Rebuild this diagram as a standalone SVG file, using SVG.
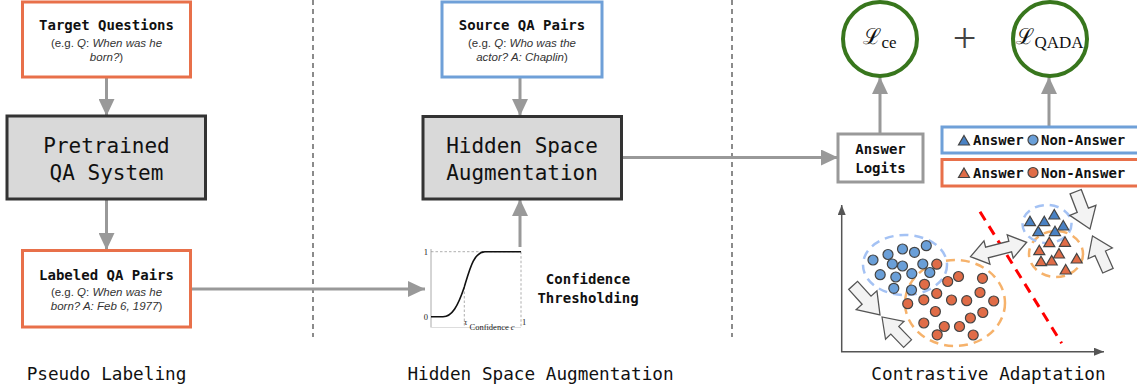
<svg xmlns="http://www.w3.org/2000/svg" xmlns:xlink="http://www.w3.org/1999/xlink" width="1137" height="392" viewBox="0 0 1137 392">
<style>
.mono{font-family:"DejaVu Sans Mono","Liberation Mono",monospace;}
.title{font-family:"DejaVu Sans Mono","Liberation Mono",monospace;font-size:14px;font-weight:bold;fill:#111;text-anchor:middle;}
.sub{font-family:"Liberation Sans",Arial,sans-serif;font-size:11.5px;fill:#333;text-anchor:middle;}
.it{font-style:italic;}
.big{font-family:"DejaVu Sans Mono","Liberation Mono",monospace;font-size:21px;fill:#111;text-anchor:middle;}
.cap{font-family:"DejaVu Sans Mono","Liberation Mono",monospace;font-size:17.7px;fill:#111;text-anchor:middle;}
.obox{fill:#fff;stroke:#e8704a;stroke-width:3;}
.bbox{fill:#fff;stroke:#6fa0d8;stroke-width:3;}
.gbox{fill:#d9d9d9;stroke:#333;stroke-width:3;}
.conn{stroke:#999;stroke-width:3;fill:none;marker-end:url(#ah);}
.sep{stroke:#666;stroke-width:1.5;stroke-dasharray:5,4;fill:none;}
.circ{fill:#fff;stroke:#38761d;stroke-width:4;}
.bd{fill:#6a9fd8;stroke:#444;stroke-width:1.2;}
.od{fill:#e06c47;stroke:#444;stroke-width:1.2;}
.bt{fill:#4a82c4;stroke:#444;stroke-width:1.2;}
.ot{fill:#e06c47;stroke:#444;stroke-width:1.2;}
.be{fill:none;stroke:#a4c2f4;stroke-width:2.5;stroke-dasharray:9,6;}
.oe{fill:none;stroke:#f6b26b;stroke-width:2.5;stroke-dasharray:9,6;}
.blk{fill:#f3f3f3;stroke:#555;stroke-width:1.3;stroke-linejoin:miter;}
.ptxt{font-family:"Liberation Serif","Times New Roman",serif;font-size:8.5px;fill:#222;}
</style>
<defs>
<marker id="ah" viewBox="0 0 17 16" refX="17" refY="8" markerWidth="17" markerHeight="16" markerUnits="userSpaceOnUse" orient="auto">
<path d="M0,0 L17,8 L0,16 Z" fill="#999"/>
</marker>
<marker id="axh" viewBox="0 0 10 8" refX="10" refY="4" markerWidth="10" markerHeight="8" markerUnits="userSpaceOnUse" orient="auto">
<path d="M0,0 L10,4 L0,8 Z" fill="#555"/>
</marker>
<path id="tri" d="M0,-5.5 L5.5,4 L-5.5,4 Z"/>
<path id="blkarrow" d="M-40,-6 L-20,-6 L-20,-14 L0,0 L-20,14 L-20,6 L-40,6 Z"/>
</defs>

<!-- separators -->
<line class="sep" x1="313" y1="0" x2="313" y2="337"/>
<line class="sep" x1="732" y1="0" x2="732" y2="337"/>

<g id="connectors">
<line class="conn" x1="106.5" y1="77" x2="106.5" y2="116"/>
<line class="conn" x1="106.5" y1="199" x2="106.5" y2="250"/>
<line class="conn" x1="190" y1="289" x2="425" y2="289"/>
<line class="conn" x1="520" y1="77" x2="520" y2="116"/>
<line class="conn" x1="520" y1="247" x2="520" y2="199"/>
<line class="conn" x1="622" y1="157.5" x2="838" y2="157.5"/>
<line class="conn" x1="880" y1="134" x2="880" y2="77"/>
<line class="conn" x1="1049" y1="127" x2="1049" y2="77"/>
</g>

<g id="target-questions">
<rect class="obox" x="22.5" y="2" width="168" height="75"/>
<text class="title" x="106.5" y="30">Target Questions</text>
<text class="sub" x="106.5" y="47">(e.g. <tspan class="it">Q</tspan>: <tspan class="it">When was he</tspan></text>
<text class="sub" x="106.5" y="60.5"><tspan class="it">born?</tspan>)</text>
</g>

<g id="pretrained-qa">
<rect class="gbox" x="7" y="116" width="198.5" height="83"/>
<text class="big" x="106.5" y="152.5">Pretrained</text>
<text class="big" x="106.5" y="180">QA System</text>
</g>

<g id="labeled-qa">
<rect class="obox" x="22.5" y="250.5" width="168" height="76.5"/>
<text class="title" x="106.5" y="280">Labeled QA Pairs</text>
<text class="sub" x="106.5" y="296">(e.g. <tspan class="it">Q</tspan>: <tspan class="it">When was he</tspan></text>
<text class="sub" x="106.5" y="310"><tspan class="it">born? A: Feb 6, 1977</tspan>)</text>
</g>

<text class="cap" x="106.5" y="379.5">Pseudo Labeling</text>

<g id="source-qa">
<rect class="bbox" x="442" y="2" width="160" height="75"/>
<text class="title" x="522" y="30">Source QA Pairs</text>
<text class="sub" x="522" y="47">(e.g. <tspan class="it">Q</tspan>: <tspan class="it">Who was the</tspan></text>
<text class="sub" x="522" y="60.5"><tspan class="it">actor? A: Chaplin</tspan>)</text>
</g>

<g id="hidden-space-aug">
<rect class="gbox" x="423" y="116.5" width="198.5" height="82.5"/>
<text class="big" x="522" y="152.5">Hidden Space</text>
<text class="big" x="522" y="180">Augmentation</text>
</g>

<g id="confidence-plot">
<line x1="431" y1="249" x2="431" y2="327.5" stroke="#aaa" stroke-width="1"/>
<line x1="431" y1="327.5" x2="521" y2="327.5" stroke="#ddd" stroke-width="1"/>
<line x1="431" y1="251.7" x2="521" y2="251.7" stroke="#999" stroke-width="0.8" stroke-dasharray="2.5,2"/>
<line x1="521" y1="251.7" x2="521" y2="327.5" stroke="#999" stroke-width="0.8" stroke-dasharray="2.5,2"/>
<line x1="464.3" y1="287" x2="464.3" y2="327.5" stroke="#999" stroke-width="0.8" stroke-dasharray="2.5,2"/>
<path d="M431,316.7 L443,316.7 C452,316.7 458,306 464.3,287 C470,268 474,252 485,251.7 L521,251.7" fill="none" stroke="#111" stroke-width="1.6"/>
<text class="ptxt" x="428" y="254.5" text-anchor="end">1</text>
<text class="ptxt" x="428" y="319.5" text-anchor="end">0</text>
<text class="ptxt" x="464" y="325">τ</text>
<text class="ptxt" x="469.5" y="330">Confidence <tspan font-style="italic">c</tspan></text>
<text class="ptxt" x="522" y="325">1</text>
</g>

<g id="confidence-thresholding">
<text class="title" x="588" y="284">Confidence</text>
<text class="title" x="588" y="303">Thresholding</text>
</g>

<text class="cap" x="540.5" y="379.5">Hidden Space Augmentation</text>

<g id="loss-ce">
<circle class="circ" cx="880" cy="39" r="37"/>
<text x="880" y="44" text-anchor="middle" fill="#111"><tspan font-family="DejaVu Serif,serif" font-size="22">ℒ</tspan><tspan font-family="Liberation Serif,serif" font-size="17" dy="4">ce</tspan></text>
</g>

<text x="964.5" y="52" text-anchor="middle" font-family="Liberation Serif,serif" font-size="42" fill="#444">+</text>

<g id="loss-qada">
<circle class="circ" cx="1050" cy="39" r="37"/>
<text x="1050" y="44" text-anchor="middle" fill="#111"><tspan font-family="DejaVu Serif,serif" font-size="22">ℒ</tspan><tspan font-family="Liberation Serif,serif" font-size="17" dy="4">QADA</tspan></text>
</g>

<g id="answer-logits">
<rect x="838" y="134" width="85" height="48" fill="#fff" stroke="#999" stroke-width="3"/>
<text class="title" x="880.5" y="154">Answer</text>
<text class="title" x="880.5" y="173">Logits</text>
</g>

<g id="legend-source">
<rect class="bbox" x="942" y="127" width="200" height="26"/>
<use xlink:href="#tri" x="964" y="141" class="bt"/>
<text class="title" x="973" y="145" style="text-anchor:start">Answer</text>
<circle cx="1033" cy="140" r="5" class="bd"/>
<text class="title" x="1041" y="145" style="text-anchor:start">Non-Answer</text>
</g>

<g id="legend-target">
<rect class="obox" x="942" y="159.5" width="200" height="26.5"/>
<use xlink:href="#tri" x="964" y="173.5" class="ot"/>
<text class="title" x="973" y="177.5" style="text-anchor:start">Answer</text>
<circle cx="1033" cy="172.5" r="5" class="od"/>
<text class="title" x="1041" y="177.5" style="text-anchor:start">Non-Answer</text>
</g>

<g id="scatter-plot">
<line x1="841.7" y1="352" x2="841.7" y2="205" stroke="#555" stroke-width="1.5" marker-end="url(#axh)"/>
<line x1="841" y1="351.7" x2="1104" y2="351.7" stroke="#555" stroke-width="1.5" marker-end="url(#axh)"/>

<ellipse class="oe" cx="955" cy="303" rx="50" ry="43"/>
<ellipse class="be" cx="905" cy="265" rx="42" ry="30"/>

<circle class="bd" cx="873" cy="260" r="5"/>
<circle class="bd" cx="888" cy="254.5" r="5"/>
<circle class="bd" cx="902.5" cy="249" r="5"/>
<circle class="bd" cx="914.5" cy="252.3" r="5"/>
<circle class="bd" cx="926.3" cy="245.7" r="5"/>
<circle class="bd" cx="892.3" cy="264" r="5"/>
<circle class="bd" cx="902.5" cy="266" r="5"/>
<circle class="bd" cx="922.8" cy="264" r="5"/>
<circle class="bd" cx="880.2" cy="274.7" r="5"/>
<circle class="bd" cx="895.8" cy="277" r="5"/>
<circle class="bd" cx="911.8" cy="273.6" r="5"/>
<circle class="bd" cx="929.8" cy="272.5" r="5"/>
<circle class="bd" cx="893.8" cy="288.3" r="5"/>
<circle class="bd" cx="911.5" cy="290" r="5"/>

<circle class="od" cx="936.8" cy="264.2" r="5"/>
<circle class="od" cx="947.7" cy="281.5" r="5"/>
<circle class="od" cx="958.5" cy="276.5" r="5"/>
<circle class="od" cx="982.5" cy="278.3" r="5"/>
<circle class="od" cx="924.5" cy="284.3" r="5"/>
<circle class="od" cx="936.7" cy="293.5" r="5"/>
<circle class="od" cx="923.8" cy="299.8" r="5"/>
<circle class="od" cx="907.7" cy="303.7" r="5"/>
<circle class="od" cx="951.5" cy="300" r="5"/>
<circle class="od" cx="966.7" cy="300.7" r="5"/>
<circle class="od" cx="980" cy="292.5" r="5"/>
<circle class="od" cx="993.7" cy="301" r="5"/>
<circle class="od" cx="935.4" cy="311.5" r="5"/>
<circle class="od" cx="982.8" cy="312.5" r="5"/>
<circle class="od" cx="970.4" cy="318" r="5"/>
<circle class="od" cx="923.8" cy="323" r="5"/>
<circle class="od" cx="944.3" cy="326.5" r="5"/>
<circle class="od" cx="959.5" cy="326.5" r="5"/>
<circle class="od" cx="937.2" cy="334.8" r="5"/>
<circle class="od" cx="973.2" cy="335" r="5"/>

<line x1="980" y1="211.7" x2="1061.7" y2="343.3" stroke="#ff0000" stroke-width="3" stroke-dasharray="10,7"/>

<ellipse class="oe" cx="1056" cy="254" rx="27" ry="23"/>
<ellipse class="be" cx="1047" cy="224" rx="24.5" ry="19"/>

<use xlink:href="#tri" x="1030" y="221.7" class="bt"/>
<use xlink:href="#tri" x="1044.3" y="221.7" class="bt"/>
<use xlink:href="#tri" x="1054.3" y="215" class="bt"/>
<use xlink:href="#tri" x="1038.3" y="231.7" class="bt"/>
<use xlink:href="#tri" x="1055" y="231.7" class="bt"/>
<use xlink:href="#tri" x="1063.3" y="226" class="bt"/>

<use xlink:href="#tri" x="1049.3" y="242.7" class="ot"/>
<use xlink:href="#tri" x="1065" y="242.3" class="ot"/>
<use xlink:href="#tri" x="1039.3" y="250.7" class="ot"/>
<use xlink:href="#tri" x="1059" y="254" class="ot"/>
<use xlink:href="#tri" x="1041" y="261.7" class="ot"/>
<use xlink:href="#tri" x="1051.7" y="261" class="ot"/>
<use xlink:href="#tri" x="1076.7" y="259" class="ot"/>
<use xlink:href="#tri" x="1065.7" y="270" class="ot"/>

<!-- block arrows -->
<use xlink:href="#blkarrow" class="blk" transform="translate(880,315) rotate(47.8)"/>
<use xlink:href="#blkarrow" class="blk" transform="translate(882,317) rotate(226) scale(0.92)"/>
<use xlink:href="#blkarrow" class="blk" transform="translate(1090,229) rotate(69)"/>
<use xlink:href="#blkarrow" class="blk" transform="translate(1092.5,236) rotate(246) scale(0.95)"/>
<path class="blk" transform="translate(970.5,256.7) rotate(-14.4)" d="M0,0 L17,-12 L17,-5.5 L41,-5.5 L41,-12 L58,0 L41,12 L41,5.5 L17,5.5 L17,12 Z"/>
</g>

<text class="cap" x="988.5" y="379.5">Contrastive Adaptation</text>
</svg>
